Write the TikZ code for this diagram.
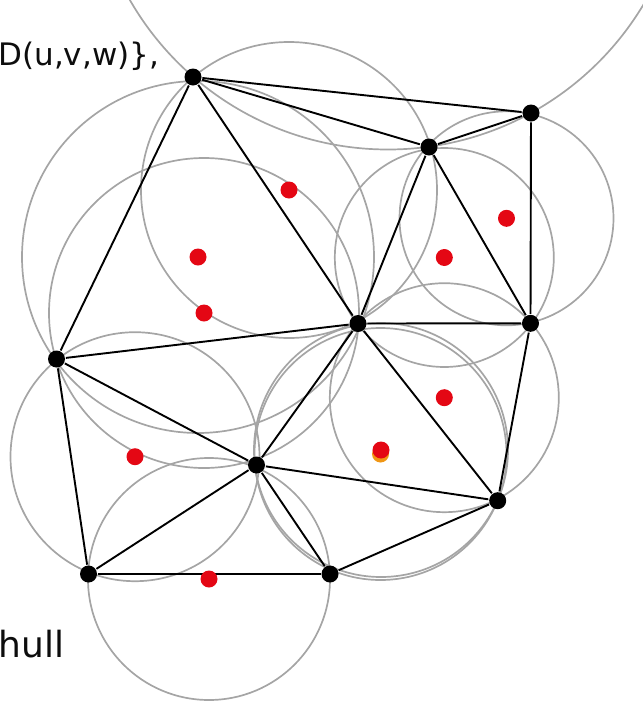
\documentclass[tikz,border=0pt]{standalone}
\usepackage{fontspec}
\setmainfont{DejaVu Sans}
\usepackage{xcolor}
\usetikzlibrary{backgrounds}

\definecolor{dotred}{RGB}{228,7,20}
\definecolor{dotorange}{RGB}{240,150,20}
\definecolor{circgray}{RGB}{165,165,165}

\begin{document}
\begin{tikzpicture}[
        x=1pt, y=-1pt,
        line width=1.9pt,
        vertex/.style={
            circle,
            fill=black,
            inner sep=0pt,
            minimum size=17pt
        },
        centre/.style={
            circle,
            fill=dotred,
            inner sep=0pt,
            minimum size=17pt
        },
        edge/.style={draw=black, line width=1.9pt},
        circ/.style={draw=circgray, line width=1.7pt},
        lbl/.style={inner sep=0pt, text=black!95, font=\fontsize{31}{37}\selectfont}
    ]

        \useasboundingbox (0,0) rectangle (643,702);
        \clip (0,0) rectangle (643,702);

        \node[vertex] (A) at (193,77)      {};
        \node[vertex] (B) at (531,113)     {};
        \node[vertex] (C) at (429,147)     {};
        \node[vertex] (D) at (358,323.5)   {};
        \node[vertex] (E) at (530.5,323.3) {};
        \node[vertex] (F) at (56.5,359)    {};
        \node[vertex] (G) at (256.5,465)   {};
        \node[vertex] (H) at (497.7,500.7) {};
        \node[vertex] (I) at (88.5,574)    {};
        \node[vertex] (J) at (330,574)     {};

        \coordinate (oACB) at (388,-148);
        \node[centre] (oACD) at (289,190)     {};
        \node[centre] (oADF) at (198,257)     {};
        \node[centre] (oFDG) at (204,313)     {};
        \node[centre] (oCBE) at (506.5,218.3) {};
        \node[centre] (oCED) at (444.3,257.5) {};
        \node[centre] (oDEH) at (444.3,397.7) {};
        \node[centre, fill=dotorange] (oGJH) at (380.5,454) {};
        \node[centre] (oDGH) at (381,450)     {};
        \node[centre] (oFGI) at (135,456.7)   {};
        \node[centre] (oGIJ) at (209,579)     {};

        \node[lbl, anchor=base west] (tD) at (-2.5,65) {D(u,v,w)\},};
        \node[lbl, anchor=base west, font=\fontsize{36}{44}\selectfont] (tHull) at (-2,657) {hull};

        \begin{scope}[on background layer]
            \clip (0,0) rectangle (643,702);

            \draw[circ] (oACB) circle[radius=297.5pt];
            \draw[circ] (oACD) circle[radius=148pt];
            \draw[circ] (oADF) circle[radius=176pt];
            \draw[circ] (oFDG) circle[radius=155pt];
            \draw[circ] (oCBE) circle[radius=107pt];
            \draw[circ] (oCED) circle[radius=109.5pt];
            \draw[circ] (oDEH) circle[radius=114.5pt];
            \draw[circ] (oDGH) circle[radius=127pt];
            \draw[circ] (oGJH) circle[radius=126pt];
            \draw[circ] (oFGI) circle[radius=124.5pt];
            \draw[circ] (oGIJ) circle[radius=121pt];

            \draw[edge] (A) -- (B);
            \draw[edge] (A) -- (C);
            \draw[edge] (A) -- (D);
            \draw[edge] (A) -- (F);
            \draw[edge] (C) -- (B);
            \draw[edge] (C) -- (D);
            \draw[edge] (C) -- (E);
            \draw[edge] (B) -- (E);
            \draw[edge] (D) -- (E);
            \draw[edge] (F) -- (D);
            \draw[edge] (F) -- (G);
            \draw[edge] (F) -- (I);
            \draw[edge] (D) -- (G);
            \draw[edge] (D) -- (H);
            \draw[edge] (E) -- (H);
            \draw[edge] (G) -- (H);
            \draw[edge] (G) -- (I);
            \draw[edge] (G) -- (J);
            \draw[edge] (I) -- (J);
            \draw[edge] (J) -- (H);
        \end{scope}

    \end{tikzpicture}
\end{document}
